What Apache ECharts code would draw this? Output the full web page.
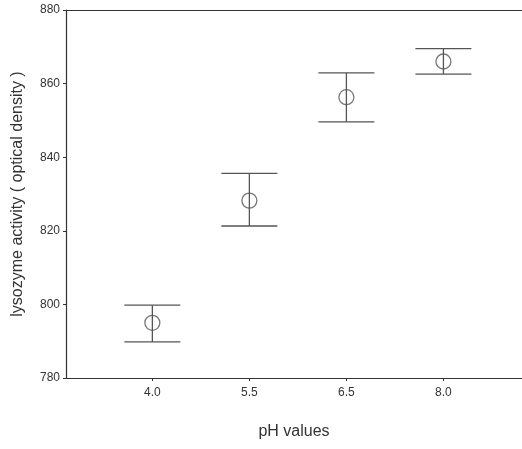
<!DOCTYPE html>
<html><head><meta charset="utf-8">
<script src="https://cdn.jsdelivr.net/npm/echarts@6/dist/echarts.min.js"></script>
<style>html,body{margin:0;padding:0;background:#fff}#c{width:522px;height:449px}</style>
</head><body><div id="c"></div>
<script>
const categories = ['4.0', '5.5', '6.5', '8.0'];
const means = [795, 828.2, 856.3, 866];
const upper = [799.8, 835.6, 862.9, 869.5];
const lower = [789.8, 821.3, 849.6, 862.6];
const yTicks = [780, 800, 820, 840, 860, 880];

const idx = categories.map((c, i) => i);
const chart = echarts.init(document.getElementById('c'));
const font = '"Liberation Sans", Arial, sans-serif';
chart.setOption({
  animation: false,
  backgroundColor: '#fff',
  grid: { left: 66, right: 0, top: 10, bottom: 71 },
  xAxis: [{
    type: 'value', min: -0.89, max: 3.81,
    splitLine: { show: false },
    axisLine: { show: true, onZero: false, lineStyle: { color: '#333', width: 1.2 } },
    axisTick: { show: true, length: 3, lineStyle: { color: '#333' }, customValues: idx },
    axisLabel: { show: true, customValues: idx, formatter: v => categories[Math.round(v)] || '',
      color: '#333', fontSize: 12, fontFamily: font, margin: 9 },
    name: 'pH values', nameLocation: 'middle', nameGap: 46,
    nameTextStyle: { color: '#333', fontSize: 16, fontFamily: font }
  }, {
    type: 'value', position: 'top', min: -0.89, max: 3.81,
    axisLine: { show: true, onZero: false, lineStyle: { color: '#333', width: 1.2 } },
    axisTick: { show: false }, axisLabel: { show: false }, splitLine: { show: false }
  }],
  yAxis: {
    type: 'value', min: 780, max: 880, interval: 20,
    splitLine: { show: false },
    axisLine: { show: true, onZero: false, lineStyle: { color: '#333', width: 1.2 } },
    axisTick: { show: true, length: 3, lineStyle: { color: '#333' } },
    axisLabel: { color: '#333', fontSize: 12, fontFamily: font, margin: 6,
      customValues: yTicks },
    name: 'lysozyme activity ( optical density )', nameLocation: 'middle', nameGap: 40,
    nameTextStyle: { color: '#333', fontSize: 16, fontFamily: font }
  },
  series: [{
    type: 'scatter',
    data: idx.map(i => [i, means[i]]),
    symbol: 'circle', symbolSize: 15,
    itemStyle: { color: 'rgba(255,255,255,0)', borderColor: '#555', borderWidth: 1.3 },
    z: 2
  }, {
    type: 'custom',
    data: idx.map(i => [i, lower[i], upper[i]]),
    renderItem: function (params, api) {
      const x = api.value(0);
      const lo = api.coord([x, api.value(1)]);
      const hi = api.coord([x, api.value(2)]);
      const hw = 28;
      const st = { stroke: '#555', lineWidth: 1.3 };
      return { type: 'group', children: [
        { type: 'line', shape: { x1: lo[0], y1: lo[1], x2: hi[0], y2: hi[1] }, style: st },
        { type: 'line', shape: { x1: lo[0] - hw, y1: lo[1], x2: lo[0] + hw, y2: lo[1] }, style: st },
        { type: 'line', shape: { x1: hi[0] - hw, y1: hi[1], x2: hi[0] + hw, y2: hi[1] }, style: st }
      ]};
    },
    z: 3
  }]
});
</script></body></html>
